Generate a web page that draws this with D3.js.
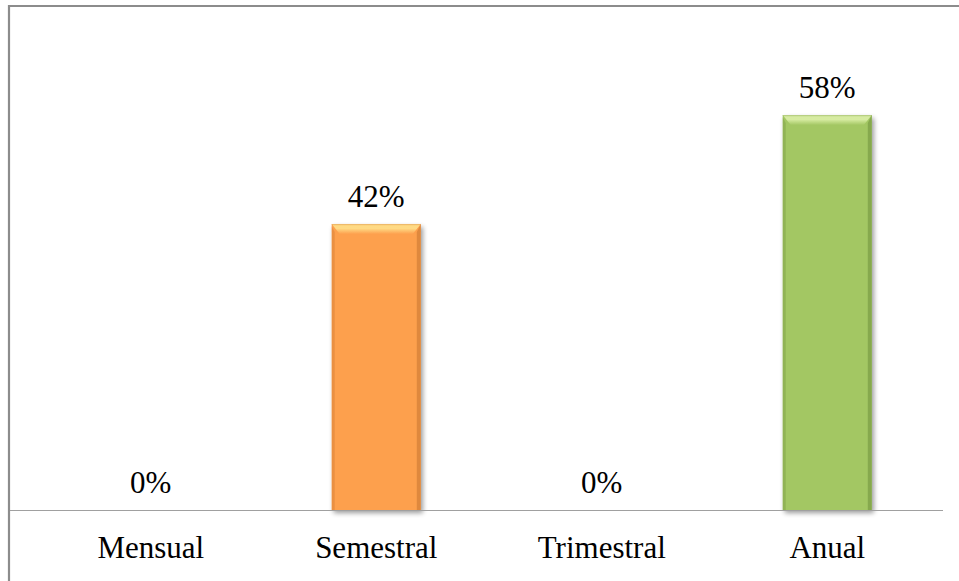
<!DOCTYPE html>
<html><head><meta charset="utf-8">
<script src="https://cdn.jsdelivr.net/npm/d3@7"></script>
<style>html,body{margin:0;padding:0;background:#fff;}svg{display:block;}
svg text{font-family:"Liberation Serif","Times New Roman","DejaVu Serif",serif;}</style>
</head><body>
<svg id="chart" width="959" height="581"></svg>
<script>
const categories = ["Mensual", "Semestral", "Trimestral", "Anual"];
const values = [0, 0.42, 0, 0.58];
const valueLabels = ["0%", "42%", "0%", "58%"];
const barColors = ["#FDA04E", "#FDA04E", "#A3C763", "#A3C763"];
const barEdges = ["#c6742e", "#c6742e", "#6f8f3c", "#6f8f3c"];
const barLights = ["#ffe08a", "#ffe08a", "#dcefa8", "#dcefa8"];

const svg = d3.select("#chart");
const W = 959, H = 581;
const x = d3.scaleBand().domain(categories).range([38, 940]).paddingInner(0.605).paddingOuter(0.3025);
const y = d3.scaleLinear().domain([0, 1]).range([510, -171]);

const defs = svg.append("defs");
const f = defs.append("filter").attr("id","sh").attr("x","-20%").attr("y","-10%").attr("width","140%").attr("height","130%");
f.append("feGaussianBlur").attr("in","SourceAlpha").attr("stdDeviation",2.5).attr("result","b");
f.append("feOffset").attr("in","b").attr("dx",2).attr("dy",3).attr("result","o");
f.append("feComponentTransfer").attr("in","o").attr("result","o2").append("feFuncA").attr("type","linear").attr("slope",0.4);
const m = f.append("feMerge"); m.append("feMergeNode").attr("in","o2"); m.append("feMergeNode").attr("in","SourceGraphic");

categories.forEach((c,i)=>{
  const lg = defs.append("linearGradient").attr("id","tg"+i).attr("x1",0).attr("y1",0).attr("x2",0).attr("y2",1);
  lg.append("stop").attr("offset","0%").attr("stop-color",barLights[i]);
  lg.append("stop").attr("offset","45%").attr("stop-color",barLights[i]);
  lg.append("stop").attr("offset","100%").attr("stop-color",barColors[i]);
});

// outer border
svg.append("path").attr("d", `M9,${H+5} V6 H${W+5}`).attr("fill","none").attr("stroke","#8c8c8c").attr("stroke-width",2.2);

// bars
const bars = svg.append("g").selectAll("g").data(categories).join("g")
  .filter((d,i)=>values[i]>0);
bars.each(function(d){
  const i = categories.indexOf(d);
  const g = d3.select(this);
  const x0 = x(d), bw = x.bandwidth(), y0 = y(values[i]), h = y(0) - y0;
  const b = 8;
  const gg = g.append("g").attr("filter","url(#sh)");
  gg.append("rect").attr("x",x0).attr("y",y0).attr("width",bw).attr("height",h).attr("fill",barColors[i]);
  gg.append("path").attr("d",`M${x0},${y0} H${x0+bw} L${x0+bw-b},${y0+b+2} H${x0+b} Z`).attr("fill","url(#tg"+i+")").attr("opacity",0.9);
  gg.append("path").attr("d",`M${x0},${y0+2} L${x0+3},${y0+b} V${y0+h} H${x0} Z`).attr("fill",barEdges[i]).attr("opacity",0.35);
  gg.append("path").attr("d",`M${x0+bw},${y0} L${x0+bw-4},${y0+b} V${y0+h} H${x0+bw} Z`).attr("fill",barEdges[i]).attr("opacity",0.55);
  gg.append("rect").attr("x",x0).attr("y",y0).attr("width",bw).attr("height",1.2).attr("fill",barEdges[i]).attr("opacity",0.3);
});

// axis line
svg.append("line").attr("x1",10).attr("x2",943).attr("y1",y(0)+0.5).attr("y2",y(0)+0.5).attr("stroke","#a0a0a0").attr("stroke-width",1.2);

// value labels
svg.append("g").selectAll("text").data(categories).join("text")
  .attr("x", d => x(d) + x.bandwidth()/2)
  .attr("y", (d,i) => y(values[i]) - 17)
  .attr("text-anchor","middle")
  .attr("font-size", 31).attr("fill","#000")
  .text((d,i) => valueLabels[i]);

// category labels
const xAxis = d3.axisBottom(x).tickSize(0).tickPadding(0);
const ax = svg.append("g").attr("transform",`translate(0,${y(0)})`).call(xAxis);
ax.attr("font-family",null);
ax.select(".domain").remove();
ax.selectAll("text").attr("dy",null).attr("y",48)
  .attr("font-size", 31).attr("fill","#000");
</script>
</body></html>
